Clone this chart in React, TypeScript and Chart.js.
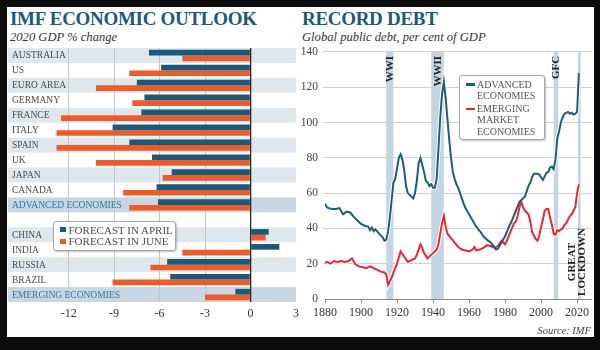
import React, { useEffect, useRef } from "react";
import { Chart, registerables } from "chart.js";
Chart.register(...registerables);

// ---------- LEFT PANEL DATA ----------
const countries = [
  "AUSTRALIA", "US", "EURO AREA", "GERMANY", "FRANCE", "ITALY", "SPAIN", "UK",
  "JAPAN", "CANADA", "ADVANCED ECONOMIES", "", "CHINA", "INDIA", "RUSSIA", "BRAZIL",
  "EMERGING ECONOMIES",
];
const summaryRows = ["ADVANCED ECONOMIES", "EMERGING ECONOMIES"];
const forecastApril = [-6.7, -5.9, -7.5, -7.0, -7.2, -9.1, -8.0, -6.5, -5.2, -6.2, -6.1, null, 1.2, 1.9, -5.5, -5.3, -1.0];
const forecastJune = [-4.5, -8.0, -10.2, -7.8, -12.5, -12.8, -12.8, -10.2, -5.8, -8.4, -8.0, null, 1.0, -4.5, -6.6, -9.1, -3.0];
const gdpTicks = [-12, -9, -6, -3, 0, 3];

// ---------- RIGHT PANEL DATA ----------
const advancedYears = [
  1880, 1881, 1882, 1884, 1886, 1888, 1890, 1892, 1894, 1896, 1898, 1900, 1902, 1904, 1905, 1906, 1907, 1908, 1910, 1912,
  1913, 1914, 1915, 1916, 1917, 1918, 1919, 1920, 1921, 1922, 1923, 1924, 1925, 1926, 1927, 1928, 1929, 1930, 1931, 1932,
  1933, 1934, 1935, 1936, 1937, 1938, 1939, 1940, 1941, 1942, 1943, 1944, 1945, 1946, 1947, 1948, 1949, 1950, 1951, 1952,
  1953, 1954, 1955, 1956, 1957, 1958, 1960, 1962, 1964, 1966, 1968, 1970, 1972, 1974, 1975, 1976, 1978, 1980, 1982, 1984,
  1986, 1988, 1990, 1991, 1992, 1993, 1994, 1995, 1996, 1997, 1998, 1999, 2000, 2001, 2002, 2003, 2004, 2005, 2006, 2007,
  2008, 2009, 2010, 2011, 2012, 2013, 2014, 2015, 2016, 2017, 2018, 2019, 2020, 2021,
];
const advancedDebt = [
  54, 52, 51.5, 51, 51, 51.5, 48, 49.5, 49, 46.5, 44.5, 42.5, 41.5, 41, 39, 40.5, 38.5, 39.5, 37, 35,
  33, 33.5, 38, 46, 56, 66, 68, 74, 80, 82, 79, 73, 64, 60, 59, 58, 57, 60, 67, 77,
  80, 76, 72, 67, 66, 64, 65, 63, 63, 68, 85, 103, 116, 123, 114, 102, 90, 80, 72, 68,
  65, 63, 60, 57, 54, 51.5, 48, 44.5, 41, 38.5, 35.5, 33.5, 32, 29.5, 28, 28.5, 32, 35.5, 40.5, 45,
  50, 55, 57, 58, 61, 64, 66, 69, 71, 71, 71, 70.5, 69, 67.5, 69.5, 71.5, 72, 74.5, 75, 73.5,
  79, 91, 95, 100, 103, 105, 105.5, 106, 105, 105.5, 104.5, 105, 106, 128,
];
const emergingYears = [
  1880, 1881, 1883, 1885, 1887, 1889, 1891, 1893, 1895, 1897, 1899, 1901, 1903, 1905, 1907, 1909, 1911, 1913, 1914, 1915,
  1916, 1917, 1918, 1920, 1922, 1923, 1925, 1926, 1928, 1930, 1931, 1933, 1934, 1935, 1937, 1938, 1940, 1942, 1943, 1944,
  1945, 1946, 1947, 1948, 1950, 1952, 1954, 1956, 1958, 1960, 1962, 1963, 1964, 1966, 1968, 1970, 1972, 1974, 1976, 1978,
  1980, 1981, 1983, 1985, 1986, 1987, 1988, 1989, 1990, 1991, 1992, 1993, 1994, 1995, 1996, 1997, 1998, 1999, 2000, 2001,
  2002, 2003, 2004, 2005, 2006, 2007, 2008, 2009, 2010, 2011, 2012, 2013, 2014, 2015, 2016, 2017, 2018, 2019, 2020, 2021,
];
const emergingDebt = [
  20.5, 21, 20, 21.5, 21, 21.5, 21, 21.5, 23, 19.5, 18.5, 18, 17.5, 18.5, 17.5, 16.5, 15.5, 15, 14, 8,
  10, 12, 15, 20, 27, 25.5, 22.5, 21, 22, 23, 25, 31, 29, 26, 23, 24, 26, 28, 31, 37,
  43, 47, 41, 37, 34.5, 32, 29.5, 28, 27.5, 27, 28, 29.5, 27.5, 28, 29, 30.5, 30, 29, 30, 33,
  31, 33, 38, 43, 44, 47, 52, 55, 52, 50, 49, 48, 44, 38, 36, 34, 33, 36, 41, 45,
  50, 51, 51, 46, 42, 37, 36.5, 39, 38.5, 39.5, 40, 42, 43, 45, 47, 48, 50, 52, 60, 65,
];
const debtTicks = [1880, 1900, 1920, 1940, 1960, 1980, 2000, 2020];
const eventLabels = ["WWI", "WWII", "GFC", "GREAT|LOCKDOWN"];
const eventStarts = [1914, 1939, 2007, 2020.5];
const eventEnds = [1918, 1946, 2009.5, 2022];

// ---------- STYLE ----------
const SERIF = '"Liberation Serif", "DejaVu Serif", serif';
const TEAL = "#1b5a78";
const BAR_BLUE = "#175a7b";
const BAR_ORANGE = "#f15a24";
const LINE_BLUE = "#1c5d7c";
const LINE_RED = "#ec2631";
const ROW_BAND = "#dfe7ee";
const SUMMARY_BAND = "#c8d7e3";
const EVENT_BAND = "#c3d5e3";

const rowPlugin = {
  id: "rowPlugin",
  beforeDraw(chart: any) {
    const { ctx, chartArea } = chart;
    const y = chart.scales.y;
    const h = chartArea.height / countries.length;
    ctx.save();
    countries.forEach((c, i) => {
      if (i % 2 !== 0) return;
      const yc = y.getPixelForValue(i);
      ctx.fillStyle = summaryRows.includes(c) ? SUMMARY_BAND : ROW_BAND;
      ctx.fillRect(chartArea.left, yc - h / 2, chartArea.right - chartArea.left, h);
    });
    ctx.restore();
  },
  afterDatasetsDraw(chart: any) {
    const { ctx } = chart;
    const y = chart.scales.y;
    ctx.save();
    ctx.textBaseline = "middle";
    ctx.textAlign = "left";
    countries.forEach((c, i) => {
      const yc = y.getPixelForValue(i);
      const summary = summaryRows.includes(c);
      ctx.font = `9.5px ${SERIF}`;
      ctx.fillStyle = summary ? "#2b7aa6" : "#4a4a4a";
      ctx.fillText(c, 12, yc + 0.5);
    });
    ctx.restore();
  },
};

const eventPlugin = {
  id: "eventPlugin",
  beforeDatasetsDraw(chart: any) {
    const { ctx, chartArea } = chart;
    const x = chart.scales.x;
    ctx.save();
    ctx.fillStyle = EVENT_BAND;
    eventStarts.forEach((s, i) => {
      const x0 = x.getPixelForValue(s);
      const x1 = x.getPixelForValue(eventEnds[i]);
      ctx.fillRect(x0, chartArea.top, x1 - x0, chartArea.bottom - chartArea.top);
    });
    ctx.restore();
  },
  afterDraw(chart: any) {
    const { ctx, chartArea } = chart;
    const x = chart.scales.x;
    ctx.save();
    ctx.fillStyle = "#222";
    ctx.font = `bold 11px ${SERIF}`;
    ctx.textBaseline = "middle";
    eventLabels.forEach((label, i) => {
      const cx = (x.getPixelForValue(eventStarts[i]) + x.getPixelForValue(eventEnds[i])) / 2;
      const lines = label.split("|");
      if (lines.length === 1) {
        ctx.save();
        ctx.translate(cx + 0.5, chartArea.top + 4);
        ctx.rotate(-Math.PI / 2);
        ctx.textAlign = "right";
        ctx.fillText(lines[0], 0, 0);
        ctx.restore();
      } else {
        lines.forEach((ln, j) => {
          ctx.save();
          ctx.translate(cx - 7 + j * 10, chartArea.bottom - 37);
          ctx.rotate(-Math.PI / 2);
          ctx.textAlign = "center";
          ctx.fillText(ln, 0, 0);
          ctx.restore();
        });
      }
    });
    ctx.restore();
  },
};

export default function App() {
  const leftRef = useRef<HTMLCanvasElement>(null);
  const rightRef = useRef<HTMLCanvasElement>(null);

  useEffect(() => {
    const left = new Chart(leftRef.current!, {
      type: "bar",
      data: {
        labels: countries,
        datasets: [
          { label: "FORECAST IN APRIL", data: forecastApril as any, backgroundColor: BAR_BLUE, categoryPercentage: 0.76, barPercentage: 1 },
          { label: "FORECAST IN JUNE", data: forecastJune as any, backgroundColor: BAR_ORANGE, categoryPercentage: 0.76, barPercentage: 1 },
        ],
      },
      options: {
        indexAxis: "y",
        animation: false,
        responsive: false,
        maintainAspectRatio: false,
        layout: { padding: { left: 8, top: 8, right: 6.3, bottom: 0 } },
        plugins: { legend: { display: false }, tooltip: { enabled: false } },
        scales: {
          x: {
            type: "linear",
            min: -16,
            max: 3,
            afterBuildTicks: (s: any) => {
              s.ticks = gdpTicks.map((v) => ({ value: v }));
            },
            afterFit: (s: any) => {
              s.height = 23;
            },
            grid: {
              drawTicks: false,
              color: (c: any) => (c.tick && c.tick.value === 0 ? "#2a2a2a" : c.tick && c.tick.value === 3 ? "rgba(0,0,0,0)" : "#c6c6c6"),
              lineWidth: (c: any) => (c.tick && c.tick.value === 0 ? 1.3 : 1),
            },
            border: { display: false },
            ticks: {
              padding: 5,
              color: "#333",
              font: { family: SERIF, size: 12 },
              callback: (v: any) => String(v),
            },
          },
          y: { display: false, grid: { display: false } },
        },
      },
      plugins: [rowPlugin],
    });

    const halo = { borderColor: "#ffffff", borderWidth: 4, pointRadius: 0, tension: 0, order: 1 };
    const right = new Chart(rightRef.current!, {
      type: "line",
      data: {
        datasets: [
          { label: "ADVANCED ECONOMIES", data: advancedYears.map((yr, i) => ({ x: yr, y: advancedDebt[i] })), borderColor: LINE_BLUE, borderWidth: 2, pointRadius: 0, tension: 0, order: 0 },
          { label: "EMERGING MARKET ECONOMIES", data: emergingYears.map((yr, i) => ({ x: yr, y: emergingDebt[i] })), borderColor: LINE_RED, borderWidth: 2, pointRadius: 0, tension: 0, order: 0 },
          { label: "halo-a", data: advancedYears.map((yr, i) => ({ x: yr, y: advancedDebt[i] })), ...halo },
          { label: "halo-e", data: emergingYears.map((yr, i) => ({ x: yr, y: emergingDebt[i] })), ...halo },
        ],
      },
      options: {
        animation: false,
        responsive: false,
        maintainAspectRatio: false,
        layout: { padding: { left: 0, top: 9.5, right: 8.5, bottom: 0 } },
        plugins: { legend: { display: false }, tooltip: { enabled: false } },
        scales: {
          x: {
            type: "linear",
            min: 1880,
            max: 2028,
            afterBuildTicks: (s: any) => {
              s.ticks = debtTicks.map((v) => ({ value: v }));
            },
            afterFit: (s: any) => {
              s.height = 26;
            },
            grid: { drawOnChartArea: false, drawTicks: true, tickLength: 4, color: "#888" },
            border: { display: true, color: "#888" },
            ticks: { padding: 3, color: "#333", font: { family: SERIF, size: 12 }, callback: (v: any) => String(v), maxRotation: 0 },
          },
          y: {
            min: 0,
            max: 140,
            afterBuildTicks: (s: any) => {
              s.ticks = [0, 20, 40, 60, 80, 100, 120, 140].map((v) => ({ value: v }));
            },
            afterFit: (s: any) => {
              s.width = 27;
            },
            grid: { color: (c: any) => (c.tick && c.tick.value === 0 ? "rgba(0,0,0,0)" : "#cfcfcf"), tickLength: 2, drawTicks: true },
            border: { display: false },
            ticks: { padding: 5, color: "#444", font: { family: SERIF, size: 11.5 } },
          },
        },
      },
      plugins: [eventPlugin],
    });

    return () => {
      left.destroy();
      right.destroy();
    };
  }, []);

  const abs = (s: React.CSSProperties): React.CSSProperties => ({ position: "absolute", whiteSpace: "nowrap", ...s });

  return (
    <div style={{ position: "fixed", left: 0, top: 0, width: 600, height: 350, background: "#0c0c0c", overflow: "hidden", fontFamily: SERIF }}>
      <div style={abs({ left: 7, top: 7, width: 587, height: 330, background: "#fff" })} />
      <div style={abs({ left: 10, top: 9, font: `bold 19px ${SERIF}`, lineHeight: "19px", color: TEAL, letterSpacing: "-0.3px" })}>IMF ECONOMIC OUTLOOK</div>
      <div style={abs({ left: 10, top: 31, font: `italic 12.6px ${SERIF}`, lineHeight: "12.6px", color: "#333" })}>2020 GDP % change</div>
      <div style={abs({ left: 302, top: 9, font: `bold 19px ${SERIF}`, lineHeight: "19px", color: TEAL, letterSpacing: "-0.3px" })}>RECORD DEBT</div>
      <div style={abs({ left: 302, top: 31, font: `italic 12.6px ${SERIF}`, lineHeight: "12.6px", color: "#333" })}>Global public debt, per cent of GDP</div>

      <canvas ref={leftRef} width={304} height={285} style={{ position: "absolute", left: 0, top: 40, width: 304, height: 285 }} />
      <canvas ref={rightRef} width={302} height={285} style={{ position: "absolute", left: 298, top: 40, width: 302, height: 285 }} />

      {/* left legend */}
      <div style={abs({ left: 53, top: 221, width: 121, height: 28, background: "#fff", border: "1px solid #a8a8a8", borderRadius: 3, boxShadow: "1px 1px 2px rgba(0,0,0,0.25)" })} />
      <div style={abs({ left: 60, top: 226.5, width: 5.5, height: 5.5, background: BAR_BLUE })} />
      <div style={abs({ left: 60, top: 238.5, width: 5.5, height: 5.5, background: BAR_ORANGE })} />
      <div style={abs({ left: 68.5, top: 224.5, font: `11px ${SERIF}`, lineHeight: "11.7px", color: "#4d4d4d" })}>
        FORECAST IN APRIL<br />FORECAST IN JUNE
      </div>

      {/* right legend */}
      <div style={abs({ left: 459, top: 75, width: 84, height: 63, background: "#fff", border: "1px solid #a8a8a8", borderRadius: 3, boxShadow: "1px 1px 2px rgba(0,0,0,0.25)" })} />
      <div style={abs({ left: 466, top: 83, width: 9, height: 2.5, background: LINE_BLUE })} />
      <div style={abs({ left: 466, top: 107.5, width: 9, height: 2.5, background: LINE_RED })} />
      <div style={abs({ left: 477, top: 78.5, font: `10px ${SERIF}`, lineHeight: "11.5px", color: "#555" })}>
        ADVANCED<br />ECONOMIES
      </div>
      <div style={abs({ left: 477, top: 102.8, font: `10px ${SERIF}`, lineHeight: "11.5px", color: "#555" })}>
        EMERGING<br />MARKET<br />ECONOMIES
      </div>

      <div style={abs({ right: 9, top: 325, font: `italic 10.5px ${SERIF}`, lineHeight: "12px", color: "#444" })}>Source: IMF</div>
    </div>
  );
}
